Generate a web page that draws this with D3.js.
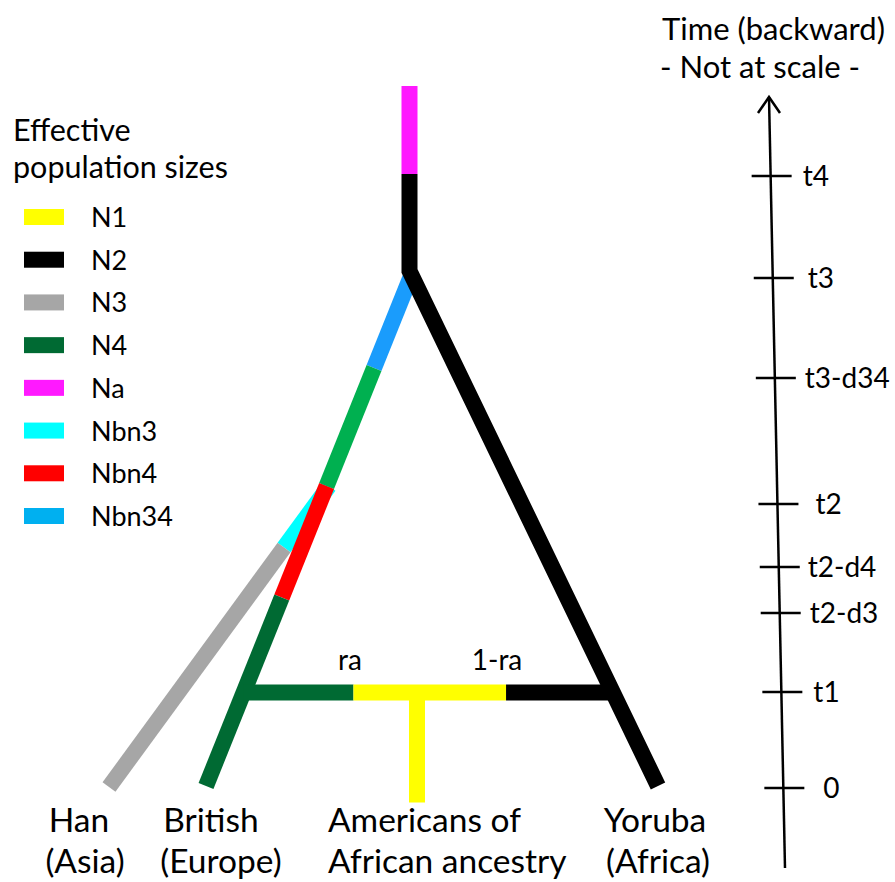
<!DOCTYPE html>
<html>
<head>
<meta charset="utf-8">
<script src="https://cdn.jsdelivr.net/npm/d3@7"></script>
<style>
  html, body { margin: 0; padding: 0; background: #ffffff; }
  svg { display: block; }
  text { font-family: Lato, "Open Sans", sans-serif; fill: #000; }
</style>
</head>
<body>
<div id="chart"></div>
<script>
// ---------------- DATA ----------------
// Legend: effective population sizes
const popLabels = ["N1", "N2", "N3", "N4", "Na", "Nbn3", "Nbn4", "Nbn34"];
const popColors = ["#FFFF00", "#000000", "#A6A6A6", "#006A33", "#FF19FF", "#00FFFF", "#FF0000", "#00B0F0"];

// Tree (diagram time units, not at scale; 0 = present)
const stemTimes = [700, 612, 515];          // Na above t4, N2 between t4 and t3
const stemPops = ["Na", "N2"];
const yorubaTimes = [515, 0];
const yorubaPops = ["N2"];
const britishTimes = [512, 418, 300, 188.5, 0];
const britishPops = ["Nbn34", "N4 (bright)", "Nbn4", "N4"];
const hanTimes = [300, 238.5, -1];
const hanPops = ["Nbn3", "N3"];
const admixTime = 93.5;
const admixPops = ["N4", "N1", "N2"];
const admixLabels = ["ra", "1-ra"];
const americansTimes = [93.5, -16.5];
const americansPops = ["N1"];

// Sampled populations (bottom labels)
const sampleLines = [["Han", "(Asia)"], ["British", "(Europe)"], ["Americans of", "African ancestry"], ["Yoruba", "(Africa)"]];

// Time axis (backward, not at scale)
const tickNames = ["0", "t1", "t2-d3", "t2-d4", "t2", "t3-d34", "t3", "t4"];
const tickValues = [0, 96, 175, 221, 284, 410, 510, 612];
const axisTitle = ["Time (backward)", "- Not at scale -"];
const legendTitle = ["Effective", "population sizes"];

// ---------------- LAYOUT ----------------
const W = 895, H = 882;
const svg = d3.select("#chart").append("svg")
  .attr("width", W).attr("height", H)
  .attr("viewBox", `0 0 ${W} ${H}`);
svg.append("rect").attr("width", W).attr("height", H).attr("fill", "#fff");

const color = d3.scaleOrdinal().domain(popLabels).range(popColors);
const treeColor = p => p === "N4 (bright)" ? "#00B050" : (p === "Nbn34" ? "#1A9CFC" : color(p));

// tree scales
const yT = d3.scaleLinear().domain([0, 700]).range([786, 86]);
const stemX = d3.scaleLinear().domain([0, 700]).range([409.5, 409.5]);
const yorubaX = d3.scaleLinear().domain([0, 515]).range([658, 409.5]);
const britishX = d3.scaleLinear().domain([0, 515]).range([206, 413]);
const hanX = d3.scaleLinear().domain([-1, 300]).range([109, 329]);
const admixX = d3.scaleLinear().domain([0, 1]).range([britishX(admixTime), yorubaX(admixTime)]);
const admixBreaks = [0, 0.2975, 0.7107, 1];   // fractions along the admixture bar
const americansX = d3.scaleLinear().domain([0, 1]).range([417, 417]);

const SW = 16;
const tree = svg.append("g").attr("fill", "none").attr("stroke-linecap", "butt");

function drawLineage(times, pops, xs) {
  pops.forEach((p, i) => {
    tree.append("line")
      .attr("x1", xs(times[i])).attr("y1", yT(times[i]))
      .attr("x2", xs(times[i + 1])).attr("y2", yT(times[i + 1]))
      .attr("stroke", treeColor(p)).attr("stroke-width", SW);
  });
}

// Han (drawn first; British overlaps it at the split)
drawLineage(hanTimes, hanPops, hanX);
// British
drawLineage(britishTimes, britishPops, britishX);
// Na on the stem
tree.append("line")
  .attr("x1", stemX(stemTimes[0])).attr("y1", yT(stemTimes[0]))
  .attr("x2", stemX(stemTimes[1])).attr("y2", yT(stemTimes[1]))
  .attr("stroke", treeColor(stemPops[0])).attr("stroke-width", SW);
// N2 stem + Yoruba as one joined path
const blackPath = d3.path();
blackPath.moveTo(stemX(stemTimes[1]), yT(stemTimes[1]));
blackPath.lineTo(stemX(stemTimes[2]), yT(stemTimes[2]));
blackPath.lineTo(yorubaX(yorubaTimes[1]), yT(yorubaTimes[1]));
tree.append("path").attr("d", blackPath.toString())
  .attr("stroke", treeColor(yorubaPops[0])).attr("stroke-width", SW)
  .attr("stroke-linejoin", "miter");
// Admixture bar
admixPops.forEach((p, i) => {
  tree.append("line")
    .attr("x1", admixX(admixBreaks[i])).attr("y1", yT(admixTime))
    .attr("x2", admixX(admixBreaks[i + 1])).attr("y2", yT(admixTime))
    .attr("stroke", treeColor(p)).attr("stroke-width", SW);
});
// Americans of African ancestry
tree.append("line")
  .attr("x1", americansX(0)).attr("y1", yT(americansTimes[0]))
  .attr("x2", americansX(0)).attr("y2", yT(americansTimes[1]))
  .attr("stroke", treeColor(americansPops[0])).attr("stroke-width", SW);

// admixture proportions labels
svg.append("text").attr("x", 350).attr("y", 670).attr("text-anchor", "middle")
  .attr("font-size", 28).text(admixLabels[0]);
svg.append("text").attr("x", 497).attr("y", 670).attr("text-anchor", "middle")
  .attr("font-size", 28).text(admixLabels[1]);

// bottom sample labels
const labelPos = [
  [{x: 79, a: "middle"}, {x: 85, a: "middle"}],
  [{x: 211, a: "middle"}, {x: 221, a: "middle"}],
  [{x: 328, a: "start"}, {x: 328, a: "start"}],
  [{x: 655, a: "middle"}, {x: 658, a: "middle"}]
];
sampleLines.forEach((lines, i) => {
  lines.forEach((t, j) => {
    svg.append("text")
      .attr("x", labelPos[i][j].x).attr("y", 832 + j * 41)
      .attr("text-anchor", labelPos[i][j].a)
      .attr("font-size", 33.5).text(t);
  });
});

// ---------------- LEGEND ----------------
const legendY = d3.scalePoint().domain(popLabels).range([217, 516]);
const legend = svg.append("g");
legend.selectAll("text.title").data(legendTitle).join("text")
  .attr("class", "title")
  .attr("x", 13).attr("y", (d, i) => 141 + i * 37)
  .attr("font-size", 30.5).text(d => d);
legend.selectAll("rect").data(popLabels).join("rect")
  .attr("x", 24).attr("y", d => legendY(d) - 8)
  .attr("width", 40).attr("height", 16)
  .attr("fill", d => color(d));
legend.selectAll("text.lab").data(popLabels).join("text")
  .attr("class", "lab")
  .attr("x", 91).attr("y", d => legendY(d) + 10)
  .attr("font-size", 27).text(d => d);

// ---------------- TIME AXIS ----------------
const axT = d3.scaleLinear().domain([0, 612]).range([788, 176]);
const axisXAt = d3.scaleLinear().domain([868, 97]).range([785, 769]);
const labelNudge = [8, 0, -2, -3, 6, -2, 3, 0];   // per-label horizontal nudge (layout)
const axisG = svg.append("g").attr("stroke", "#000").attr("stroke-width", 2.5).attr("fill", "none");
const yBottom = axT(-80), yTop = axT(691);
axisG.append("line")
  .attr("x1", axisXAt(yBottom)).attr("y1", yBottom)
  .attr("x2", axisXAt(yTop)).attr("y2", yTop);
axisG.append("path")
  .attr("d", `M${axisXAt(yTop) - 11},${yTop + 16} L${axisXAt(yTop)},${yTop} L${axisXAt(yTop) + 11},${yTop + 16}`)
  .attr("stroke-linejoin", "miter");
axisG.selectAll("line.tick").data(tickValues).join("line")
  .attr("class", "tick")
  .attr("x1", d => axisXAt(axT(d)) - 19).attr("x2", d => axisXAt(axT(d)) + 21)
  .attr("y1", d => axT(d)).attr("y2", d => axT(d));
svg.selectAll("text.tickLab").data(tickValues).join("text")
  .attr("class", "tickLab")
  .attr("x", (d, i) => axisXAt(axT(d)) + 32 + labelNudge[i])
  .attr("y", d => axT(d) + 10)
  .attr("font-size", 28)
  .text((d, i) => tickNames[i]);

svg.selectAll("text.axTitle").data(axisTitle).join("text")
  .attr("class", "axTitle")
  .attr("x", (d, i) => i === 0 ? 662 : 660).attr("y", (d, i) => 40 + i * 38)
  .attr("font-size", 31).text(d => d);
</script>
</body>
</html>
